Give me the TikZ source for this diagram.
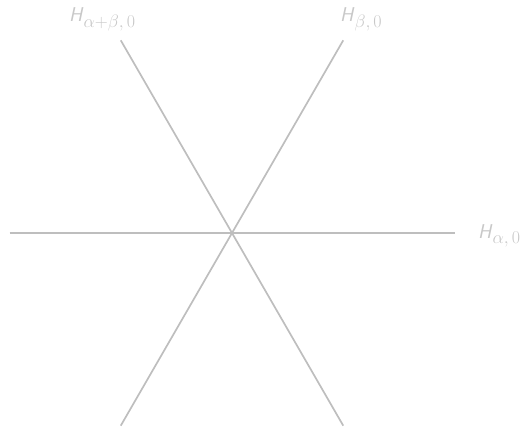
\RequirePackage{fix-cm}
\documentclass[tikz,border=0pt]{standalone}
\usepackage{fontspec}
\usetikzlibrary{calc}
\DeclareMathSizes{20}{20}{18}{12}
\definecolor{linegray}{HTML}{BEBEBE}
\definecolor{labelgray}{HTML}{C8C8C8}
\tikzset{
  hline/.style={draw=linegray, line width=1.7pt},
  hlabel/.style={text=labelgray, inner sep=0pt, anchor=base west, font=\fontsize{20}{24}\selectfont}
}
\newcommand{\Hsym}{\textsf{\itshape H}}
\begin{document}
\begin{tikzpicture}[x=1pt,y=1pt]
\useasboundingbox (0,0) rectangle (526,428);
\coordinate (c) at (232,195);
\coordinate (aL) at ($(c)+(180:222.5)$);
\coordinate (aR) at ($(c)+(0:222.5)$);
\coordinate (bU) at ($(c)+(60:222.5)$);
\coordinate (bD) at ($(c)+(240:222.5)$);
\coordinate (abU) at ($(c)+(120:222.5)$);
\coordinate (abD) at ($(c)+(300:222.5)$);
\draw[hline] (aL) -- (aR);
\draw[hline] (bD) -- (bU);
\draw[hline] (abD) -- (abU);
\node[hlabel] (la) at (478,189) {\Hsym$_{\alpha,\,0}$};
\node[hlabel] (lb) at (340,406) {\Hsym$_{\beta,\,0}$};
\node[hlabel] (lab) at (69,406) {\Hsym$_{\alpha+\beta,\,0}$};
\end{tikzpicture}
\end{document}
